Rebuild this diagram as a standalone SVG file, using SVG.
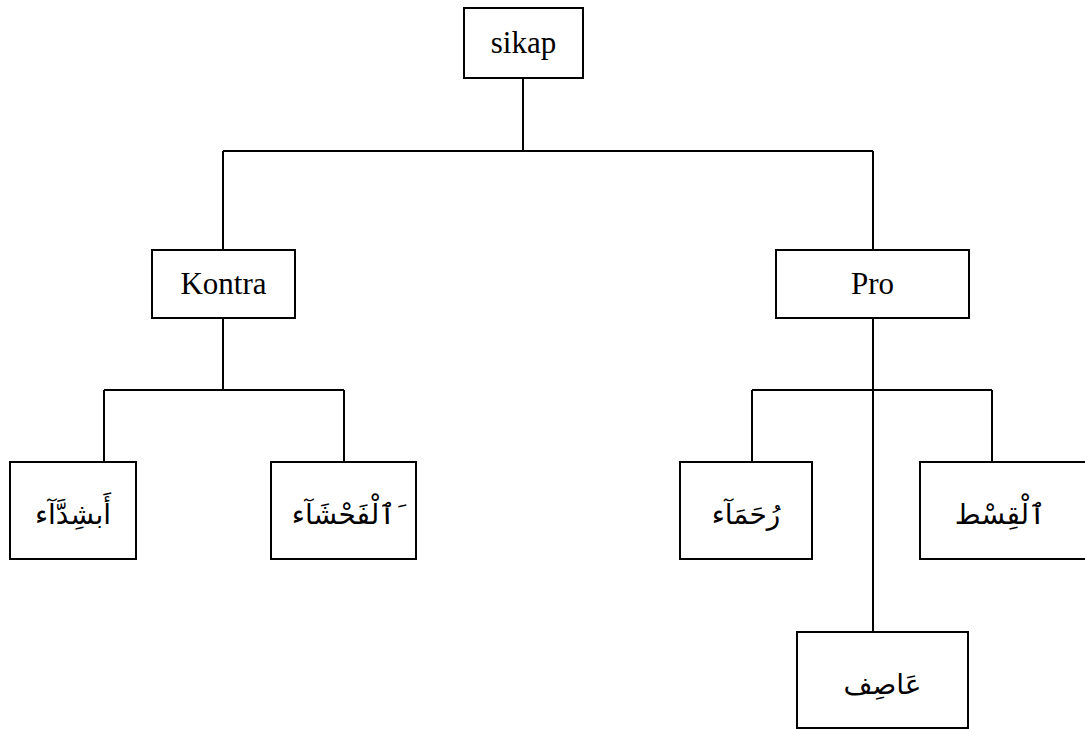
<svg xmlns="http://www.w3.org/2000/svg" width="1085" height="729" viewBox="0 0 1085 729">
<style>
.box{fill:#fff;stroke:#000;stroke-width:2}
.ln{fill:none;stroke:#000;stroke-width:2}
.lat{font-family:'Liberation Serif','Times New Roman',Times,serif;font-size:31px;fill:#000;text-anchor:middle}
.ar{font-family:'DejaVu Sans','Noto Sans',sans-serif;font-size:28px;fill:#000;text-anchor:middle}
</style>
<rect width="1085" height="729" fill="#fff"/>
<g id="connectors">
<path class="ln" d="M523,78 V151 M223,151 H873 M223,151 V250 M873,151 V250"/>
<path class="ln" d="M223,318 V390 M104,390 H344 M104,390 V462 M344,390 V462"/>
<path class="ln" d="M873,318 V632 M752,390 H992 M752,390 V462 M992,390 V462"/>
</g>
<g id="sikap"><rect class="box" x="464" y="8" width="119" height="70"/><text class="lat" x="523.5" y="53">sikap</text></g>
<g id="kontra"><rect class="box" x="152" y="250" width="143" height="68"/><text class="lat" x="223.5" y="294">Kontra</text></g>
<g id="pro"><rect class="box" x="776" y="250" width="193" height="68"/><text class="lat" x="872.5" y="294">Pro</text></g>
<g id="asyidda"><rect class="box" x="10" y="462" width="126" height="97"/><text class="ar" x="73" y="524" direction="rtl">أَبشِدَّآء</text></g>
<g id="fahsya"><rect class="box" x="271" y="462" width="145" height="97"/><text class="ar" x="343.5" y="524" direction="rtl">َٱلْفَحْشَآء</text></g>
<g id="ruhama"><rect class="box" x="680" y="462" width="132" height="97"/><text class="ar" x="746" y="524" direction="rtl">رُحَمَآء</text></g>
<g id="qisth"><rect class="box" x="920" y="462" width="175" height="97"/><text class="ar" x="1000" y="524" direction="rtl">ٱلْقِسْط</text></g>
<g id="ashif"><rect class="box" x="797" y="632" width="171" height="96"/><text class="ar" x="882.5" y="694" direction="rtl">عَاصِف</text></g>
</svg>
